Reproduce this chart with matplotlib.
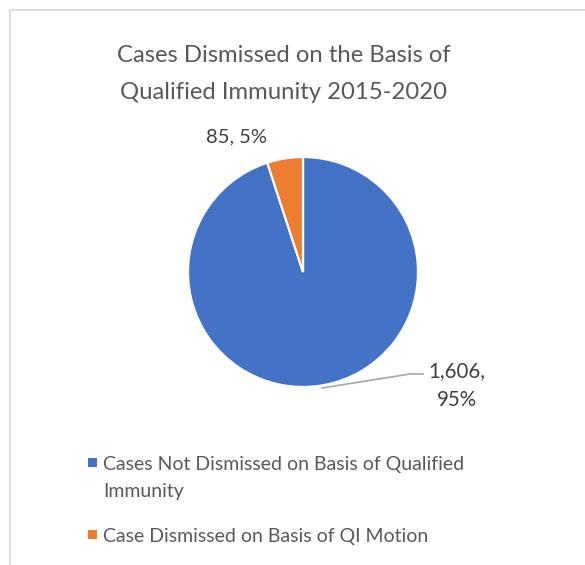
import textwrap
import matplotlib
matplotlib.use("Agg")
import matplotlib.pyplot as plt
from matplotlib.patches import Rectangle

# data
categories = ["Cases Not Dismissed on Basis of Qualified Immunity",
              "Case Dismissed on Basis of QI Motion"]
counts = [1606, 85]
colors = ["#4472C4", "#ED7D31"]
title = "Cases Dismissed on the Basis of\nQualified Immunity 2015-2020"

W, H = 585, 565
plt.rcParams['font.family'] = ['Lato', 'DejaVu Sans']
TXT = "#595959"

fig = plt.figure(figsize=(W / 100, H / 100), dpi=100)
ax = fig.add_axes([0, 0, 1, 1])


def Y(py):
    # pixel row (from top) -> data y
    return H - py


# pie
cx, cy, r = 303, Y(272), 115
ax.pie(counts, colors=colors, center=(cx, cy), radius=r, startangle=90,
       counterclock=False, wedgeprops=dict(edgecolor='white', linewidth=1.6),
       frame=True)
ax.set_xlim(0, W)
ax.set_ylim(0, H)
ax.set_aspect('equal')
ax.axis('off')

# chart area border (only left and top show)
ax.plot([10, 10, W + 5], [Y(H + 5), Y(10), Y(10)], color="#d9d9d9", lw=1.2,
        solid_capstyle='butt')

# title
lines = title.split("\n")
ax.text(284, Y(62), lines[0], ha='center', va='baseline', fontsize=17.2, color=TXT)
ax.text(284, Y(99), lines[1], ha='center', va='baseline', fontsize=17.2, color=TXT)

total = sum(counts)
pcts = [round(c / total * 100) for c in counts]

# data labels
LBL = "#404040"
ax.text(236, Y(142), f"{counts[1]:,}, {pcts[1]}%", ha='center', va='baseline',
        fontsize=14.5, color=LBL)
ax.plot([322, 410, 423], [Y(388), Y(374), Y(374)], color="#a6a6a6", lw=1.2)
ax.text(457, Y(377), f"{counts[0]:,},", ha='center', va='baseline',
        fontsize=14.8, color=LBL)
ax.text(457, Y(406), f"{pcts[0]}%", ha='center', va='baseline',
        fontsize=14.8, color=LBL)

# legend
leg_y = [470, 542]
for name, col, by in zip(categories, colors, leg_y):
    ax.add_patch(Rectangle((88, Y(by - 3)), 9, 9, color=col, lw=0))
    for k, ln in enumerate(textwrap.wrap(name, 41)):
        ax.text(103, Y(by + 27 * k), ln, ha='left', va='baseline',
                fontsize=14.0, color=TXT)

fig.savefig("out.png", dpi=100)
